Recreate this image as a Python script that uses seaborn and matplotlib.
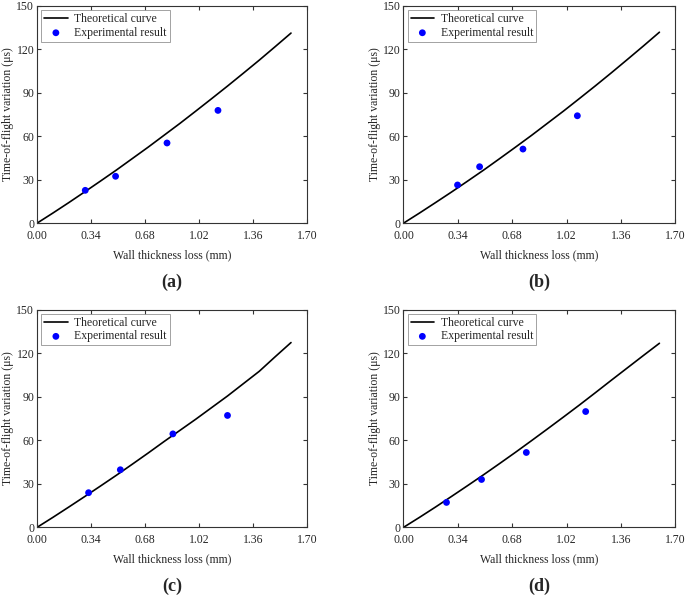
import matplotlib
matplotlib.use("Agg")
import matplotlib.pyplot as plt
import pandas as pd
import seaborn as sns

# Theoretical curve sample points
curve_x = [0.0, 0.1, 0.2, 0.3, 0.4, 0.5, 0.6, 0.7, 0.8, 0.9, 1.0, 1.1, 1.2, 1.3, 1.4, 1.5, 1.6]
curve_a = [0.0, 7.0, 14.2, 21.6, 29.1, 36.7, 44.6, 52.5, 60.7, 68.9, 77.4, 86.0, 94.7, 103.6, 112.6, 121.9, 131.3]
curve_b = [0.0, 7.0, 14.2, 21.5, 29.0, 36.6, 44.5, 52.5, 60.6, 69.0, 77.4, 86.1, 94.9, 103.9, 113.1, 122.4, 131.9]
curve_c = [0.0, 6.9, 14.0, 21.2, 28.5, 35.9, 43.5, 51.2, 59.1, 66.8, 74.5, 82.5, 90.5, 99.0, 107.5, 117.5, 127.3]
curve_d = [0.0, 6.9, 14.0, 21.3, 28.7, 36.2, 43.9, 51.7, 59.7, 67.8, 76.0, 84.3, 92.8, 101.4, 109.9, 118.4, 126.8]

# Experimental results
exp_x_a = [0.304, 0.495, 0.819, 1.140]
exp_y_a = [22.7, 32.4, 55.4, 77.9]
exp_x_b = [0.338, 0.476, 0.747, 1.087]
exp_y_b = [26.4, 39.0, 51.2, 74.2]
exp_x_c = [0.325, 0.525, 0.856, 1.200]
exp_y_c = [23.9, 39.7, 64.4, 77.1]
exp_x_d = [0.269, 0.488, 0.768, 1.139]
exp_y_d = [17.2, 33.0, 51.6, 79.8]

panel_labels = ["(a)", "(b)", "(c)", "(d)"]
x_ticks = [0.00, 0.34, 0.68, 1.02, 1.36, 1.70]
y_ticks = [0, 30, 60, 90, 120, 150]

sns.set_style("ticks")
plt.rcParams["font.family"] = ["Liberation Serif", "DejaVu Serif"]

fig = plt.figure(figsize=(6.85, 6.0), dpi=100)

# axes rectangles in figure fractions
positions = [
    [0.054, 0.628, 0.394, 0.362],
    [0.589, 0.628, 0.397, 0.362],
    [0.054, 0.121, 0.394, 0.363],
    [0.589, 0.121, 0.397, 0.363],
]
curves = [curve_a, curve_b, curve_c, curve_d]
exps = [(exp_x_a, exp_y_a), (exp_x_b, exp_y_b), (exp_x_c, exp_y_c), (exp_x_d, exp_y_d)]

for pos, curve, (ex, ey), lab in zip(positions, curves, exps, panel_labels):
    ax = fig.add_axes(pos)
    df_curve = pd.DataFrame({"x": curve_x, "y": curve})
    df_exp = pd.DataFrame({"x": ex, "y": ey})
    sns.lineplot(data=df_curve, x="x", y="y", ax=ax, color="black", linewidth=1.2,
                 label="Theoretical curve")
    sns.scatterplot(data=df_exp, x="x", y="y", ax=ax, color="blue", s=24, edgecolor="none",
                    label="Experimental result", zorder=3)

    ax.set_xlim(0, 1.70)
    ax.set_ylim(0, 150)
    ax.set_xticks(x_ticks)
    ax.set_xticklabels([f"{t:.2f}" for t in x_ticks])
    ax.set_yticks(y_ticks)
    ax.tick_params(direction="in", top=True, right=True, length=3, width=0.8,
                   labelsize=8.5, color="#333333")
    ax.tick_params(axis="x", pad=5)
    ax.tick_params(axis="y", pad=2)
    for sp in ax.spines.values():
        sp.set_color("#333333")
        sp.set_linewidth(0.8)
    ax.set_xlabel("Wall thickness loss (mm)", fontsize=8.5, labelpad=5)
    ax.set_ylabel("Time-of-flight variation (μs)", fontsize=8.5, labelpad=1.5)

    leg = ax.legend(loc="upper left", fontsize=8.5, frameon=True, fancybox=False,
                    borderpad=0.25, labelspacing=0.15, handlelength=2.0, handletextpad=0.55,
                    borderaxespad=0.35)
    leg.get_frame().set_edgecolor("#777777")
    leg.get_frame().set_linewidth(0.6)

    # panel label below
    ax.text(0.5, -0.27, lab, transform=ax.transAxes, ha="center", va="center",
            fontsize=13, fontweight="bold")

fig.savefig("out.png", dpi=100)
